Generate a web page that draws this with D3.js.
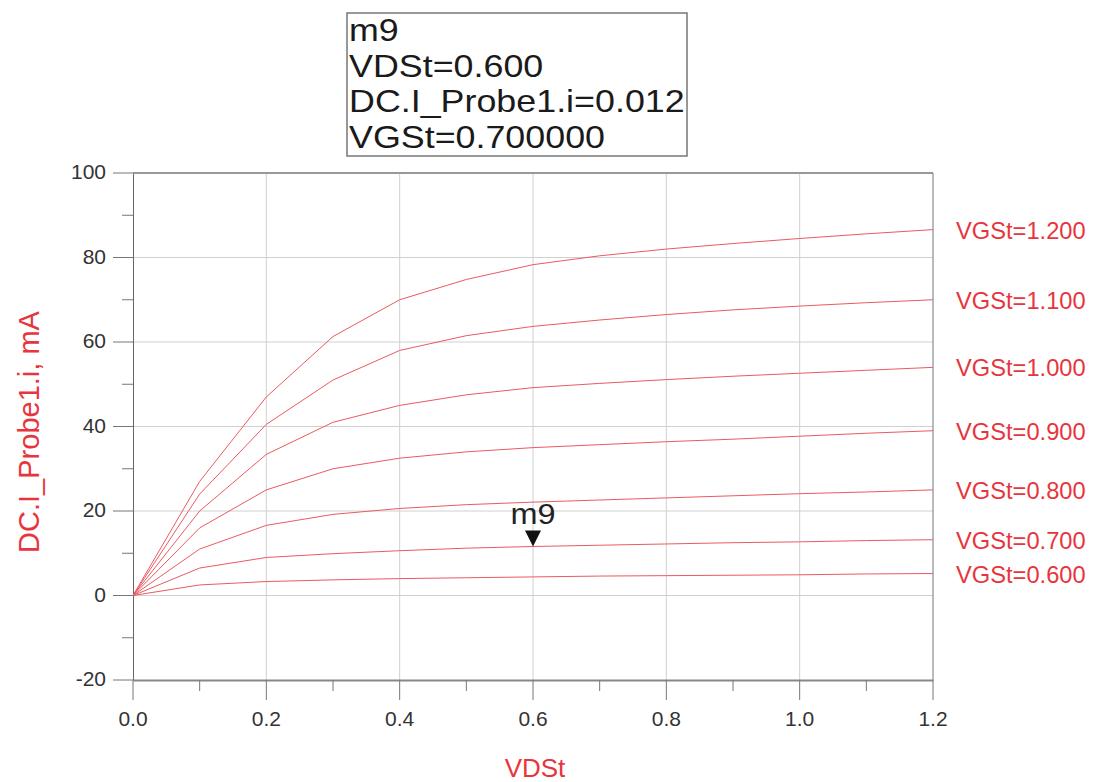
<!DOCTYPE html>
<html>
<head>
<meta charset="utf-8">
<script src="https://cdn.jsdelivr.net/npm/d3@7"></script>
<style>
  body { margin: 0; background: #fff; }
  text { font-family: Arial, "Liberation Sans", sans-serif; }
</style>
</head>
<body>
<div id="chart"></div>
<script>
// sweep values
vds = [0, 0.1, 0.2, 0.3, 0.4, 0.5, 0.6, 0.7, 0.8, 0.9, 1.0, 1.1, 1.2];
vgs = [0.6, 0.7, 0.8, 0.9, 1.0, 1.1, 1.2];
// drain current in mA, one row per VGSt
id_06 = [0, 2.5, 3.3, 3.7, 4.0, 4.2, 4.4, 4.6, 4.7, 4.8, 4.9, 5.1, 5.2];
id_07 = [0, 6.5, 9.0, 9.9, 10.6, 11.2, 11.6, 11.9, 12.2, 12.5, 12.7, 13.0, 13.2];
id_08 = [0, 11, 16.6, 19.2, 20.6, 21.5, 22.1, 22.6, 23.1, 23.6, 24.1, 24.5, 25];
id_09 = [0, 16, 25, 30, 32.5, 34, 35, 35.7, 36.4, 37, 37.7, 38.4, 39];
id_10 = [0, 20, 33.4, 41, 45, 47.5, 49.2, 50.2, 51.1, 51.9, 52.6, 53.3, 54];
id_11 = [0, 24, 40.5, 51, 58, 61.5, 63.7, 65.2, 66.5, 67.6, 68.5, 69.3, 70];
id_12 = [0, 27, 47, 61.3, 70, 74.8, 78.3, 80.4, 82, 83.3, 84.5, 85.6, 86.6];
curves = [id_06, id_07, id_08, id_09, id_10, id_11, id_12];
x_ticks = [0, 0.2, 0.4, 0.6, 0.8, 1.0, 1.2];
y_ticks = [-20, 0, 20, 40, 60, 80, 100];
marker_lines = ['m9', 'VDSt=0.600', 'DC.I_Probe1.i=0.012', 'VGSt=0.700000'];
marker_pt = [0.6, 11.6];

W = 1095; H = 782;
plot_l = 133; plot_r = 933; plot_t = 173; plot_b = 680;
red = '#e8353d';
curve_color = '#ea5a61';

svg = d3.select('#chart').append('svg')
  .attr('width', W).attr('height', H);

x = d3.scaleLinear().domain([0, 1.2]).range([plot_l, plot_r]);
y = d3.scaleLinear().domain([-20, 100]).range([plot_b, plot_t]);

// grid
svg.append('g').selectAll('line').data(x_ticks.slice(1, -1)).join('line')
  .attr('x1', d => x(d)).attr('x2', d => x(d))
  .attr('y1', plot_t).attr('y2', plot_b)
  .attr('stroke', '#d0d0d0').attr('stroke-width', 1);
svg.append('g').selectAll('line').data(y_ticks.slice(1, -1)).join('line')
  .attr('x1', plot_l).attr('x2', plot_r)
  .attr('y1', d => y(d)).attr('y2', d => y(d))
  .attr('stroke', '#d0d0d0').attr('stroke-width', 1);

// frame
svg.append('line').attr('x1', plot_l).attr('x2', plot_r).attr('y1', plot_t).attr('y2', plot_t)
  .attr('stroke', '#999').attr('stroke-width', 2);
svg.append('line').attr('x1', plot_r).attr('x2', plot_r).attr('y1', plot_t).attr('y2', plot_b)
  .attr('stroke', '#777').attr('stroke-width', 1);

// y axis
yAxis = d3.axisLeft(y).tickValues(d3.range(-20, 101, 10)).tickSize(0).tickFormat('');
svg.append('g').attr('transform', `translate(${plot_l},0)`).call(yAxis)
  .call(g => g.select('.domain').attr('stroke', '#666'));
svg.append('g').selectAll('line').data(d3.range(-20, 101, 10)).join('line')
  .attr('x1', plot_l).attr('x2', d => d % 20 === 0 ? plot_l - 20 : plot_l - 11)
  .attr('y1', d => y(d)).attr('y2', d => y(d))
  .attr('stroke', '#777');
svg.append('g').selectAll('text').data(y_ticks).join('text')
  .attr('x', 106).attr('y', d => y(d) + 6)
  .attr('text-anchor', 'end').attr('font-size', 21).attr('fill', '#333')
  .text(d => d);

// x axis
xAxis = d3.axisBottom(x).tickValues(d3.range(0, 13).map(i => i / 10)).tickSize(0).tickFormat('');
svg.append('g').attr('transform', `translate(0,${plot_b})`).call(xAxis)
  .call(g => g.select('.domain').attr('stroke', '#888').attr('stroke-width', 2));
svg.append('g').selectAll('line').data(d3.range(0, 13)).join('line')
  .attr('x1', d => x(d / 10)).attr('x2', d => x(d / 10))
  .attr('y1', plot_b).attr('y2', d => d % 2 === 0 ? plot_b + 20 : plot_b + 11)
  .attr('stroke', '#777');
svg.append('g').selectAll('text').data(x_ticks).join('text')
  .attr('x', d => x(d)).attr('y', 726)
  .attr('text-anchor', 'middle').attr('font-size', 21).attr('fill', '#333')
  .text(d => d.toFixed(1));

// curves
line = d3.line().x((d, i) => x(vds[i])).y(d => y(d));
svg.append('g').selectAll('path').data(curves).join('path')
  .attr('d', line).attr('fill', 'none')
  .attr('stroke', curve_color).attr('stroke-width', 1);

// curve labels
svg.append('g').selectAll('text').data(vgs).join('text')
  .attr('transform', (d, i) => `translate(956,${y(curves[i][curves[i].length - 1]) + 9}) scale(1.03,1)`)
  .attr('font-size', 23).attr('fill', red)
  .text(d => 'VGSt=' + d.toFixed(3));

// axis titles
svg.append('text').attr('transform', 'translate(39,432) rotate(-90)')
  .attr('text-anchor', 'middle').attr('font-size', 29).attr('fill', red)
  .text('DC.I_Probe1.i, mA');
svg.append('text').attr('x', x(0.6) + 2).attr('y', 777)
  .attr('text-anchor', 'middle').attr('font-size', 26).attr('fill', red)
  .text('VDSt');

// marker
mx = x(marker_pt[0]); my = y(marker_pt[1]);
svg.append('path')
  .attr('d', `M${mx - 8},${my - 16}L${mx + 8},${my - 16}L${mx},${my}Z`)
  .attr('fill', '#111');
svg.append('text')
  .attr('transform', `translate(${mx},${my - 22}) scale(1.12,1)`)
  .attr('text-anchor', 'middle').attr('font-size', 29).attr('fill', '#222')
  .text('m9');

svg.append('rect').attr('x', 347).attr('y', 13).attr('width', 340).attr('height', 143)
  .attr('fill', '#fff').attr('stroke', '#777').attr('stroke-width', 1.5);
svg.append('g').selectAll('text').data(marker_lines).join('text')
  .attr('transform', (d, i) => `translate(349,${41 + i * 35.5}) scale(1.12,1)`)
  .attr('font-size', 32).attr('fill', '#1a1a1a')
  .text(d => d);
</script>
</body>
</html>
